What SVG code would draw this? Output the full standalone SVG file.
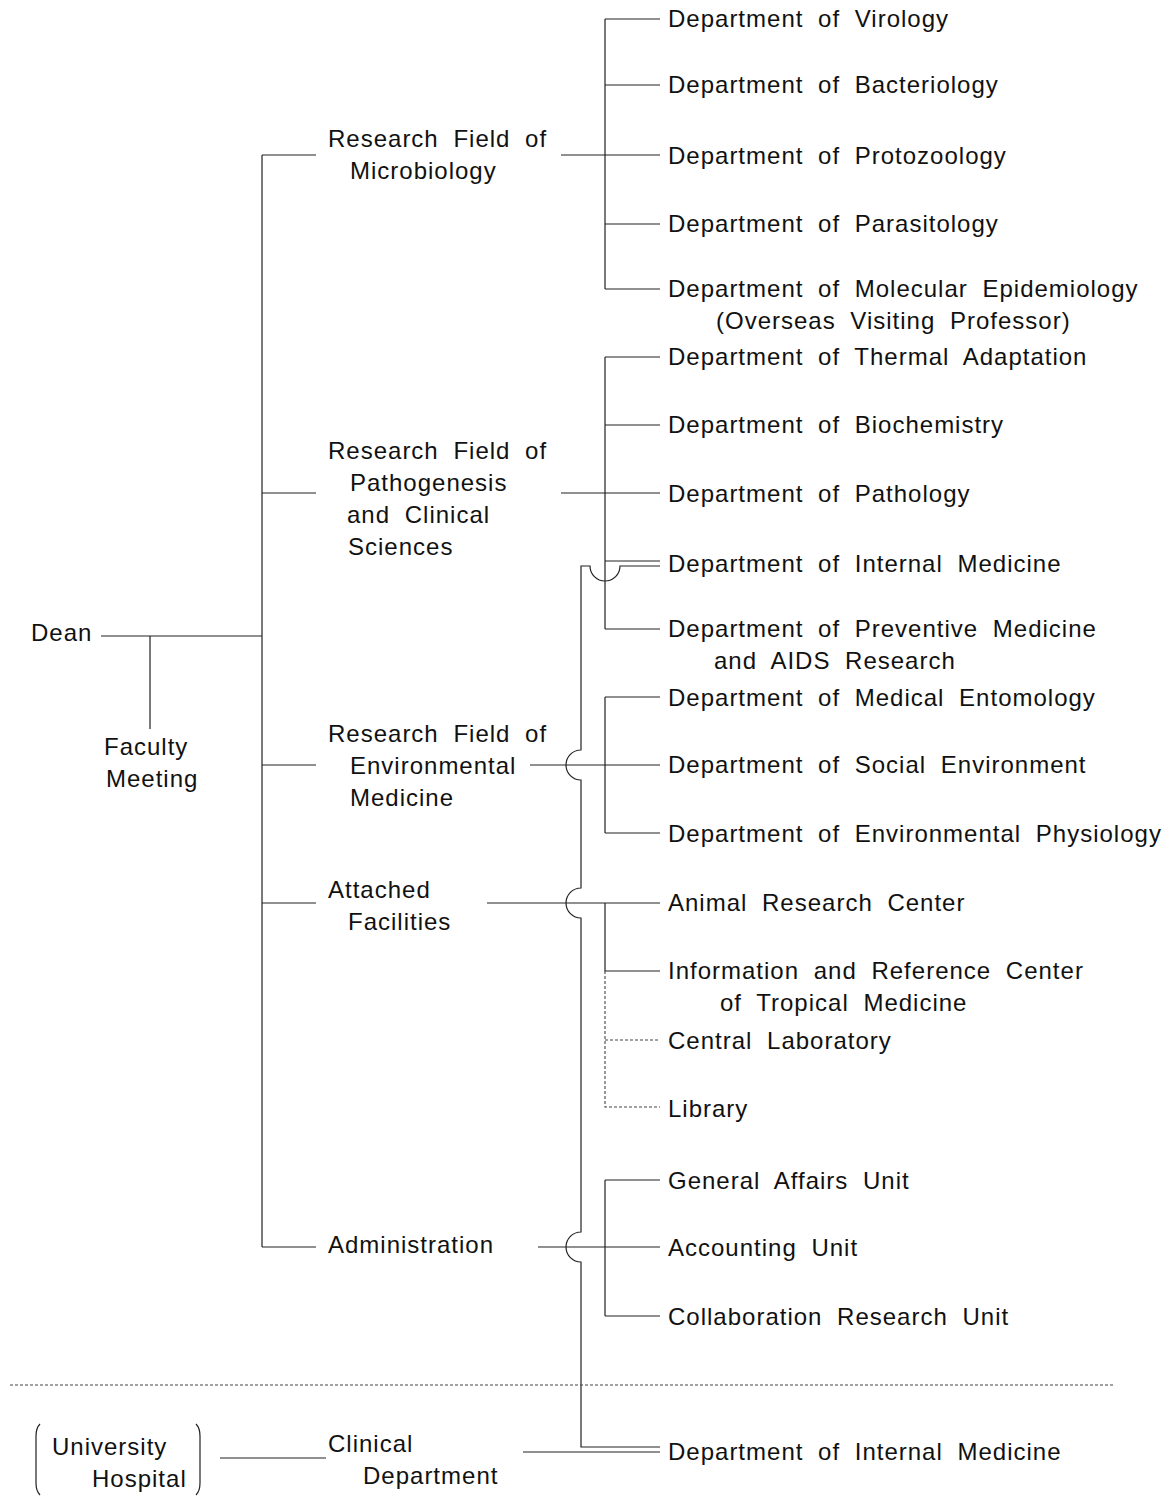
<svg xmlns="http://www.w3.org/2000/svg" width="1172" height="1496" viewBox="0 0 1172 1496">
<style>
text{font-family:"Liberation Sans",Arial,sans-serif;font-size:24px;fill:#111;letter-spacing:1px;word-spacing:7px}
.c{fill:none;stroke:#222;stroke-width:1.2}
.d{fill:none;stroke:#444;stroke-width:1.1;stroke-dasharray:3,2}
</style>
<rect width="1172" height="1496" fill="#fff"/>
<g id="connectors">
<!-- dean / faculty -->
<path class="c" d="M101,636 H262 M150,636 V729"/>
<!-- main trunk -->
<path class="c" d="M262,155 V1247 M262,155 H316 M262,493 H316 M262,765 H316 M262,903 H316 M262,1247 H316"/>
<!-- microbiology -->
<path class="c" d="M561,155 H660 M605,19 V289 M605,19 H660 M605,85 H660 M605,224 H660 M605,289 H660"/>
<!-- pathogenesis -->
<path class="c" d="M561,493 H660 M605,357 V629 M605,357 H660 M605,425 H660 M605,561 H660 M605,629 H660"/>
<!-- environmental -->
<path class="c" d="M530,765 H660 M605,697 V833 M605,697 H660 M605,833 H660"/>
<!-- attached -->
<path class="c" d="M487,903 H660 M605,903 V971 H660"/>
<path class="d" d="M605,971 V1107 H660 M605,1040 H660"/>
<!-- administration -->
<path class="c" d="M538,1247 H660 M605,1180 V1316 M605,1180 H660 M605,1316 H660"/>
<!-- clinical line with hops -->
<path class="c" d="M660,566 H620 A15,15 0 0 1 590,566 H581 V750 A15,15 0 0 0 581,780 V888 A15,15 0 0 0 581,918 V1232 A15,15 0 0 0 581,1262 V1447 H660"/>
<path class="c" d="M523,1452 H660"/>
<path class="c" d="M220,1458 H326"/>
<!-- separator -->
<path class="d" d="M10,1385 H1113" stroke="#666"/>
</g>
<g id="hospital-bracket">
<path class="c" d="M40,1424 Q36,1428 36,1436 V1483 Q36,1491 40,1495"/>
<path class="c" d="M196,1424 Q200,1428 200,1436 V1483 Q200,1491 196,1495"/>
</g>
<g id="n-dean"><text x="31" y="641">Dean</text></g>
<g id="n-faculty"><text x="104" y="755">Faculty</text><text x="106" y="787">Meeting</text></g>
<g id="n-micro"><text x="328" y="147">Research Field of</text><text x="350" y="179">Microbiology</text></g>
<g id="n-patho"><text x="328" y="459">Research Field of</text><text x="350" y="491">Pathogenesis</text><text x="347" y="523">and Clinical</text><text x="348" y="555">Sciences</text></g>
<g id="n-env"><text x="328" y="742">Research Field of</text><text x="350" y="774">Environmental</text><text x="350" y="806">Medicine</text></g>
<g id="n-attached"><text x="328" y="898">Attached</text><text x="348" y="930">Facilities</text></g>
<g id="n-admin"><text x="328" y="1253">Administration</text></g>
<g id="n-clinical"><text x="328" y="1452">Clinical</text><text x="363" y="1484">Department</text></g>
<g id="n-hospital"><text x="52" y="1455">University</text><text x="92" y="1487">Hospital</text></g>
<g id="n-virology"><text x="668" y="27">Department of Virology</text></g>
<g id="n-bacteriology"><text x="668" y="93">Department of Bacteriology</text></g>
<g id="n-protozoology"><text x="668" y="164">Department of Protozoology</text></g>
<g id="n-parasitology"><text x="668" y="232">Department of Parasitology</text></g>
<g id="n-molecular"><text x="668" y="297">Department of Molecular Epidemiology</text><text x="716" y="329">(Overseas Visiting Professor)</text></g>
<g id="n-thermal"><text x="668" y="365">Department of Thermal Adaptation</text></g>
<g id="n-biochem"><text x="668" y="433">Department of Biochemistry</text></g>
<g id="n-pathology"><text x="668" y="502">Department of Pathology</text></g>
<g id="n-internal"><text x="668" y="572">Department of Internal Medicine</text></g>
<g id="n-preventive"><text x="668" y="637">Department of Preventive Medicine</text><text x="714" y="669">and AIDS Research</text></g>
<g id="n-entomology"><text x="668" y="706">Department of Medical Entomology</text></g>
<g id="n-social"><text x="668" y="773">Department of Social Environment</text></g>
<g id="n-envphys"><text x="668" y="842">Department of Environmental Physiology</text></g>
<g id="n-animal"><text x="668" y="911">Animal Research Center</text></g>
<g id="n-info"><text x="668" y="979">Information and Reference Center</text><text x="720" y="1011">of Tropical Medicine</text></g>
<g id="n-central"><text x="668" y="1049">Central Laboratory</text></g>
<g id="n-library"><text x="668" y="1117">Library</text></g>
<g id="n-general"><text x="668" y="1189">General Affairs Unit</text></g>
<g id="n-accounting"><text x="668" y="1256">Accounting Unit</text></g>
<g id="n-collab"><text x="668" y="1325">Collaboration Research Unit</text></g>
<g id="n-internal-clin"><text x="668" y="1460">Department of Internal Medicine</text></g>
</svg>
